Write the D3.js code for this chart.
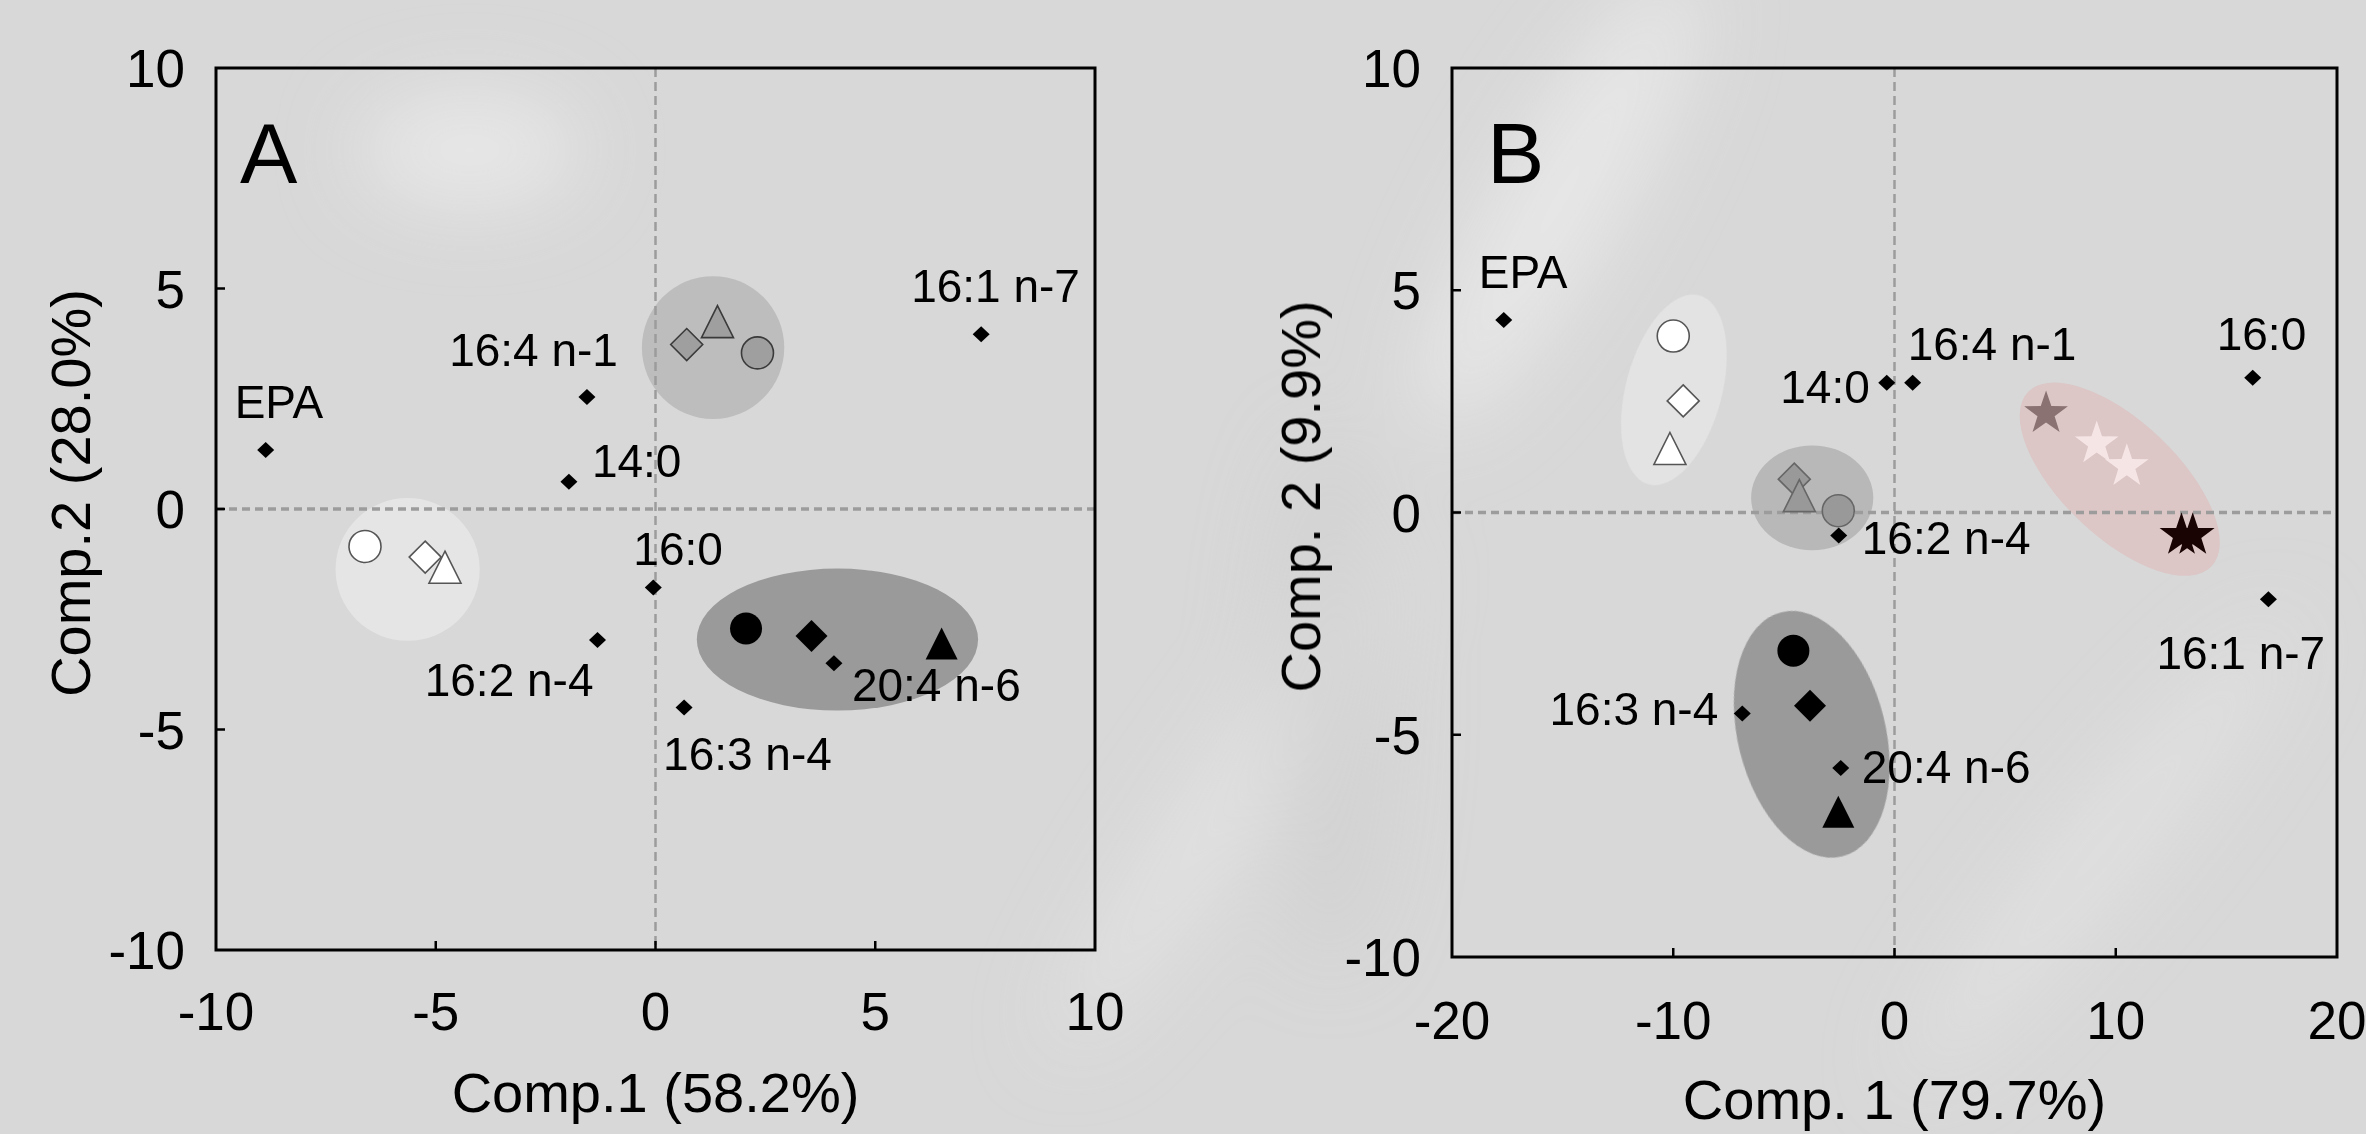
<!DOCTYPE html>
<html>
<head>
<meta charset="utf-8">
<script src="https://cdn.jsdelivr.net/npm/d3@7"></script>
<style>
  html, body { margin: 0; padding: 0; background: #d9d9d9; }
  svg { display: block; font-family: "Liberation Sans", Arial, sans-serif; }
</style>
</head>
<body>
<svg id="chart" width="2366" height="1134"></svg>
<script>
// =============================================================================
// Data
// =============================================================================
const fattyAcids = ['EPA', '16:4 n-1', '14:0', '16:0', '16:2 n-4', '16:3 n-4', '20:4 n-6', '16:1 n-7'];

// Panel A loadings (Comp.1, Comp.2)
const loadA_x = [-8.87, -1.56, -1.97, -0.05, -1.32, 0.65, 4.06, 7.41];
const loadA_y = [1.34, 2.54, 0.62, -1.78, -2.97, -4.50, -3.50, 3.96];

// Panel B loadings
const loadB_x = [-17.66, 0.82, -0.35, 16.19, -2.52, -6.88, -2.43, 16.90];
const loadB_y = [4.33, 2.92, 2.92, 3.03, -0.52, -4.52, -5.75, -1.95];

// Sample scores: group, shape
const samplesA = [
  { group: 'white', shape: 'circle',   x: -6.61, y: -0.85 },
  { group: 'white', shape: 'diamond',  x: -5.24, y: -1.09 },
  { group: 'white', shape: 'triangle', x: -4.79, y: -1.32 },
  { group: 'gray',  shape: 'diamond',  x: 0.71,  y: 3.73 },
  { group: 'gray',  shape: 'triangle', x: 1.41,  y: 4.25 },
  { group: 'gray',  shape: 'circle',   x: 2.32,  y: 3.54 },
  { group: 'black', shape: 'circle',   x: 2.06,  y: -2.71 },
  { group: 'black', shape: 'diamond',  x: 3.55,  y: -2.88 },
  { group: 'black', shape: 'triangle', x: 6.51,  y: -3.05 }
];

const samplesB = [
  { group: 'white', shape: 'circle',   x: -10.00, y: 3.97 },
  { group: 'white', shape: 'diamond',  x: -9.55,  y: 2.51 },
  { group: 'white', shape: 'triangle', x: -10.15, y: 1.44 },
  { group: 'gray',  shape: 'diamond',  x: -4.53,  y: 0.75 },
  { group: 'gray',  shape: 'triangle', x: -4.30,  y: 0.38 },
  { group: 'gray',  shape: 'circle',   x: -2.54,  y: 0.04 },
  { group: 'black', shape: 'circle',   x: -4.57,  y: -3.11 },
  { group: 'black', shape: 'diamond',  x: -3.82,  y: -4.35 },
  { group: 'black', shape: 'triangle', x: -2.54,  y: -6.73 },
  { group: 'star1', shape: 'star',     x: 6.85,   y: 2.23 },
  { group: 'star2', shape: 'star',     x: 9.14,   y: 1.55 },
  { group: 'star2', shape: 'star',     x: 10.50,  y: 1.04 },
  { group: 'star3', shape: 'star',     x: 12.97,  y: -0.51 },
  { group: 'star3', shape: 'star',     x: 13.48,  y: -0.51 }
];

// Group ellipses: centre and semi-axes in data units, rotation in degrees
const ellipsesA = [
  { group: 'white', cx: -5.64, cy: -1.37, rx: 1.64, ry: 1.62, angle: 0 },
  { group: 'gray',  cx: 1.31,  cy: 3.66,  rx: 1.62, ry: 1.62, angle: 0 },
  { group: 'black', cx: 4.14,  cy: -2.96, rx: 3.20, ry: 1.61, angle: 0 }
];
const ellipsesB = [
  { group: 'white', cx: -9.97,  cy: 2.76,  rx: 2.17, ry: 2.20, angle: 15 },
  { group: 'gray',  cx: -3.72,  cy: 0.33,  rx: 2.76, ry: 1.18, angle: 0 },
  { group: 'black', cx: -3.74,  cy: -4.99, rx: 3.34, ry: 2.83, angle: -14 },
  { group: 'star',  cx: 10.18,  cy: 0.75,  rx: 5.72, ry: 1.30, angle: 43.5 }
];

const ticksA_x = [-10, -5, 0, 5, 10];
const ticksB_x = [-20, -10, 0, 10, 20];
const ticks_y = [-10, -5, 0, 5, 10];

// =============================================================================
// Visual configuration
// =============================================================================
const FONT_TICK = 53;
const FONT_TITLE = 56;
const FONT_LABEL = 46;
const FONT_PANEL = 86;

const ELLIPSE_FILL = { white: '#e5e5e5', gray: '#bdbdbd', black: '#9a9a9a', star: '#dcc6c6' };
const ELLIPSE_FILL_B = { white: '#e3e3e3', gray: '#b8b8b8', black: '#9a9a9a', star: '#dcc6c6' };
const MARKER_STYLE = {
  white: { fill: '#ffffff', stroke: '#555555', width: 1.6 },
  gray:  { fill: '#9f9f9f', stroke: '#3a3a3a', width: 1.6 },
  black: { fill: '#000000', stroke: 'none',    width: 0 },
  star1: { fill: '#8a7272', stroke: 'none',    width: 0 },
  star2: { fill: '#f6e5e5', stroke: 'none',    width: 0 },
  star3: { fill: '#1a0303', stroke: 'none',    width: 0 }
};
const MARKER_STYLE_B = Object.assign({}, MARKER_STYLE, {
  gray: { fill: '#999999', stroke: '#666666', width: 1.6 }
});

// label offsets (px) relative to each loading point
const labelPosA = {
  'EPA':      { dx: -31, dy: -32, anchor: 'start' },
  '16:4 n-1': { dx: 31,  dy: -31, anchor: 'end' },
  '14:0':     { dx: 23,  dy: -5,  anchor: 'start' },
  '16:0':     { dx: -20, dy: -22, anchor: 'start' },
  '16:2 n-4': { dx: -4,  dy: 56,  anchor: 'end' },
  '16:3 n-4': { dx: -21, dy: 63,  anchor: 'start' },
  '20:4 n-6': { dx: 18,  dy: 38,  anchor: 'start' },
  '16:1 n-7': { dx: -70, dy: -32, anchor: 'start' }
};
const labelPosB = {
  'EPA':      { dx: -25,  dy: -32, anchor: 'start' },
  '16:4 n-1': { dx: -5,   dy: -23, anchor: 'start' },
  '14:0':     { dx: -17,  dy: 20,  anchor: 'end' },
  '16:0':     { dx: -36,  dy: -28, anchor: 'start' },
  '16:2 n-4': { dx: 23,   dy: 18,  anchor: 'start' },
  '16:3 n-4': { dx: -24,  dy: 12,  anchor: 'end' },
  '20:4 n-6': { dx: 21,   dy: 15,  anchor: 'start' },
  '16:1 n-7': { dx: -112, dy: 70,  anchor: 'start' }
};

const svg = d3.select('#chart');

// -----------------------------------------------------------------------------
// Background with soft light streaks
// -----------------------------------------------------------------------------
const defs = svg.append('defs');
defs.append('filter').attr('id', 'soft')
  .attr('x', '-50%').attr('y', '-50%').attr('width', '200%').attr('height', '200%')
  .append('feGaussianBlur').attr('stdDeviation', 40);

svg.append('rect').attr('width', 2366).attr('height', 1134).attr('fill', '#d8d8d8');
const bg = svg.append('g').attr('filter', 'url(#soft)');
bg.append('ellipse').attr('cx', 470).attr('cy', 150).attr('rx', 110).attr('ry', 55)
  .attr('fill', '#ececec').attr('opacity', 0.8);
bg.append('ellipse').attr('cx', 1560).attr('cy', 200).attr('rx', 60).attr('ry', 260)
  .attr('transform', 'rotate(30,1560,200)').attr('fill', '#ebebeb').attr('opacity', 0.8);
bg.append('ellipse').attr('cx', 1230).attr('cy', 800).attr('rx', 40).attr('ry', 300)
  .attr('transform', 'rotate(35,1230,800)').attr('fill', '#e6e6e6').attr('opacity', 0.7);
bg.append('ellipse').attr('cx', 2100).attr('cy', 850).attr('rx', 45).attr('ry', 300)
  .attr('transform', 'rotate(40,2100,850)').attr('fill', '#e4e4e4').attr('opacity', 0.6);
bg.append('ellipse').attr('cx', 1330).attr('cy', 700).attr('rx', 60).attr('ry', 260)
  .attr('fill', '#cdcdcd').attr('opacity', 0.5);

// -----------------------------------------------------------------------------
// Marker path builders
// -----------------------------------------------------------------------------
function markerPath(shape) {
  const p = d3.path();
  if (shape === 'circle') {
    p.arc(0, 0, 16, 0, 2 * Math.PI);
  } else if (shape === 'diamond') {
    p.moveTo(0, -16); p.lineTo(16, 0); p.lineTo(0, 16); p.lineTo(-16, 0); p.closePath();
  } else if (shape === 'triangle') {
    p.moveTo(0, -16); p.lineTo(16, 16); p.lineTo(-16, 16); p.closePath();
  } else if (shape === 'star') {
    const pts = d3.range(10).map(i => [i * Math.PI / 5, i % 2 === 0 ? 23 : 9]);
    return d3.lineRadial().angle(d => d[0]).radius(d => d[1]).curve(d3.curveLinearClosed)(pts);
  }
  return p.toString();
}
const smallDiamond = 'M0,-8L8.5,0L0,8L-8.5,0Z';

// -----------------------------------------------------------------------------
// Panel drawing
// -----------------------------------------------------------------------------
function drawPanel(cfg) {
  const x = d3.scaleLinear().domain([cfg.xTicks[0], cfg.xTicks[cfg.xTicks.length - 1]])
    .range([cfg.left, cfg.right]);
  const y = d3.scaleLinear().domain([-10, 10]).range([cfg.bottom, cfg.top]);
  const kx = Math.abs(x(1) - x(0));
  const ky = Math.abs(y(1) - y(0));

  const g = svg.append('g');

  // group ellipses
  g.selectAll('ellipse.grp')
    .data(cfg.ellipses)
    .enter()
    .append('ellipse')
    .attr('class', 'grp')
    .attr('cx', 0).attr('cy', 0)
    .attr('rx', d => d.rx * kx)
    .attr('ry', d => d.ry * ky)
    .attr('transform', d => `translate(${x(d.cx)},${y(d.cy)}) rotate(${d.angle})`)
    .attr('fill', d => cfg.ellipseFill[d.group]);

  // zero lines
  g.append('line')
    .attr('x1', cfg.left).attr('x2', cfg.right)
    .attr('y1', y(0)).attr('y2', y(0))
    .attr('stroke', '#9c9c9c').attr('stroke-width', 3.5)
    .attr('stroke-dasharray', '8,5');
  g.append('line')
    .attr('x1', x(0)).attr('x2', x(0))
    .attr('y1', cfg.top).attr('y2', cfg.bottom)
    .attr('stroke', '#9c9c9c').attr('stroke-width', 2.5)
    .attr('stroke-dasharray', '9,5');

  // frame
  g.append('rect')
    .attr('x', cfg.left).attr('y', cfg.top)
    .attr('width', cfg.right - cfg.left).attr('height', cfg.bottom - cfg.top)
    .attr('fill', 'none').attr('stroke', '#000').attr('stroke-width', 3);

  // inward ticks
  const innerX = cfg.xTicks.slice(1, -1);
  const innerY = ticks_y.slice(1, -1);
  g.selectAll('line.xt').data(innerX).enter().append('line')
    .attr('x1', d => x(d)).attr('x2', d => x(d))
    .attr('y1', cfg.bottom).attr('y2', cfg.bottom - 9)
    .attr('stroke', '#000').attr('stroke-width', 2.5);
  g.selectAll('line.yt').data(innerY).enter().append('line')
    .attr('x1', cfg.left).attr('x2', cfg.left + 9)
    .attr('y1', d => y(d)).attr('y2', d => y(d))
    .attr('stroke', '#000').attr('stroke-width', 2.5);

  // tick labels
  g.selectAll('text.xl').data(cfg.xTicks).enter().append('text')
    .attr('x', d => x(d)).attr('y', cfg.bottom + cfg.xLabelGap)
    .attr('text-anchor', 'middle').attr('font-size', FONT_TICK)
    .text(d => d);
  g.selectAll('text.yl').data(ticks_y).enter().append('text')
    .attr('x', cfg.left - 31).attr('y', d => y(d))
    .attr('dy', '0.36em')
    .attr('text-anchor', 'end').attr('font-size', FONT_TICK)
    .text(d => d);

  // axis titles
  g.append('text')
    .attr('x', x(0)).attr('y', cfg.bottom + cfg.xTitleGap)
    .attr('text-anchor', 'middle').attr('font-size', FONT_TITLE)
    .text(cfg.xTitle);
  g.append('text')
    .attr('transform', `translate(${cfg.left - cfg.yTitleGap},${y(0) - 16}) rotate(-90)`)
    .attr('text-anchor', 'middle').attr('font-size', FONT_TITLE)
    .text(cfg.yTitle);

  // panel letter
  g.append('text')
    .attr('x', cfg.letterX).attr('y', 183)
    .attr('font-size', FONT_PANEL)
    .text(cfg.letter);

  // loading points
  const loadings = fattyAcids.map((name, i) => ({ name, x: cfg.lx[i], y: cfg.ly[i] }));
  g.selectAll('path.ld').data(loadings).enter().append('path')
    .attr('d', smallDiamond)
    .attr('transform', d => `translate(${x(d.x)},${y(d.y)})`)
    .attr('fill', '#000');

  g.selectAll('text.ldl').data(loadings).enter().append('text')
    .attr('x', d => x(d.x) + cfg.labelPos[d.name].dx)
    .attr('y', d => y(d.y) + cfg.labelPos[d.name].dy)
    .attr('text-anchor', d => cfg.labelPos[d.name].anchor)
    .attr('font-size', FONT_LABEL)
    .text(d => d.name);

  // sample markers
  g.selectAll('path.smp').data(cfg.samples).enter().append('path')
    .attr('d', d => markerPath(d.shape))
    .attr('transform', d => `translate(${x(d.x)},${y(d.y)})`)
    .attr('fill', d => cfg.markerStyle[d.group].fill)
    .attr('stroke', d => cfg.markerStyle[d.group].stroke)
    .attr('stroke-width', d => cfg.markerStyle[d.group].width);
}

drawPanel({
  left: 216, right: 1095, top: 68, bottom: 950,
  xTicks: ticksA_x, xLabelGap: 80, xTitleGap: 162, yTitleGap: 126,
  xTitle: 'Comp.1 (58.2%)', yTitle: 'Comp.2 (28.0%)',
  letter: 'A', letterX: 240,
  lx: loadA_x, ly: loadA_y, labelPos: labelPosA,
  samples: samplesA, ellipses: ellipsesA,
  ellipseFill: ELLIPSE_FILL, markerStyle: MARKER_STYLE
});

drawPanel({
  left: 1452, right: 2337, top: 68, bottom: 957,
  xTicks: ticksB_x, xLabelGap: 82, xTitleGap: 162, yTitleGap: 132,
  xTitle: 'Comp. 1 (79.7%)', yTitle: 'Comp. 2 (9.9%)',
  letter: 'B', letterX: 1487,
  lx: loadB_x, ly: loadB_y, labelPos: labelPosB,
  samples: samplesB, ellipses: ellipsesB,
  ellipseFill: ELLIPSE_FILL_B, markerStyle: MARKER_STYLE_B
});
</script>
</body>
</html>
